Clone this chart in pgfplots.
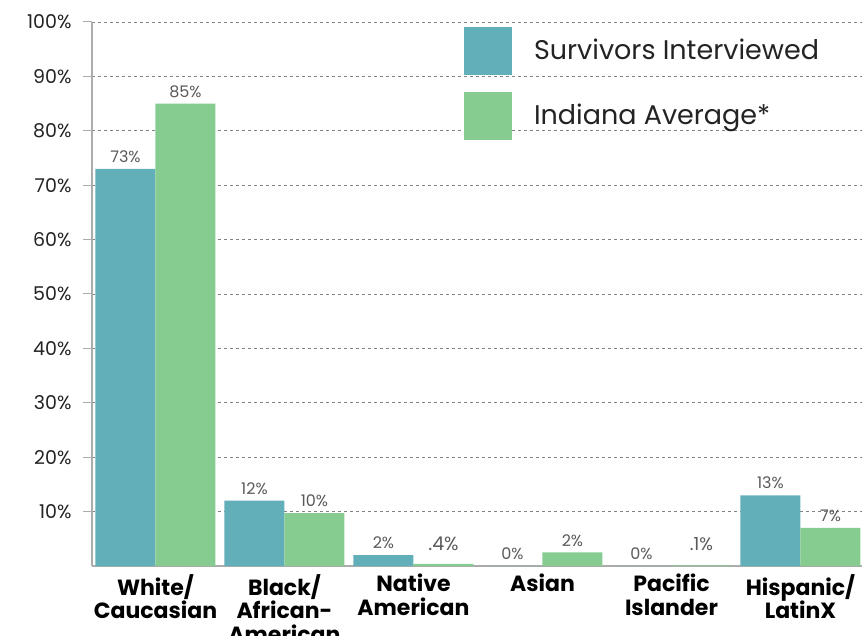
\documentclass[border=0pt]{standalone}
\usepackage{pgfplots}
\pgfplotsset{compat=1.18}
\usepackage{fontspec}
\setmainfont{Poppins}
\definecolor{cblue}{RGB}{98,175,185}
\definecolor{cgreen}{RGB}{134,204,144}
\definecolor{axgray}{RGB}{172,172,172}
\definecolor{gridgray}{RGB}{130,130,130}
\definecolor{labgray}{RGB}{90,90,90}
\definecolor{txt}{RGB}{35,35,35}
\begin{document}
\begin{tikzpicture}
\useasboundingbox (-92pt,-69pt) rectangle (770pt,566pt);
\begin{axis}[
  scale only axis, width=770pt, height=544pt,
  anchor=south west, at={(0pt,0pt)},
  ybar=0pt, bar width=60pt,
  xmin=-0.492, xmax=5.477, ymin=0, ymax=100,
  xtick={0,1,2,3,4,5},
  xticklabels={{White/\\Caucasian},{Black/\\African-\\American},{Native\\American},{Asian},{Pacific\\Islander},{Hispanic/\\LatinX}},
  x tick label style={align=center, font=\fontsize{22}{23.5}\selectfont\bfseries, text=black, inner sep=2pt, yshift=3pt},
  major x tick style={draw=none},
  ytick={10,20,...,100},
  yticklabel={\pgfmathprintnumber{\tick}\%},
  /pgf/number format/assume math mode=true,
  y tick label style={font=\fontsize{19}{19}\selectfont, text=txt, xshift=-8pt},
  tick align=outside,
  major y tick style={draw=axgray, line width=1pt},
  major tick length=9pt,
  ymajorgrids,
  grid style={dashed, draw=gridgray, line width=0.8pt},
  axis lines*=left,
  axis line style={-, draw=axgray, line width=2.5pt},
  point meta=explicit symbolic,
  nodes near coords,
  every node near coord/.append style={font=\fontsize{16}{16}\selectfont, text=labgray, inner sep=6pt},
  legend style={at={(0.479,0.995)}, anchor=north west, draw=none, fill=none,
    font=\fontsize{27}{30}\selectfont, text=txt, row sep=17pt, column sep=22pt,
    nodes={inner sep=0pt}},
  legend cell align=left,
]
\addplot[fill=cblue, draw=none,
  legend image code/.code={\fill[cblue] (0pt,-25pt) rectangle (48pt,23pt);}]
  coordinates {(0,73)[73\%] (1,12)[12\%] (2,2)[2\%] (3,0)[0\%] (4,0)[0\%] (5,13)[13\%]};
\addplot[fill=cgreen, draw=none,
  legend image code/.code={\fill[cgreen] (0pt,-25pt) rectangle (48pt,23pt);}]
  coordinates {(0,85)[85\%] (1,9.7)[10\%] (2,0.4)[\raisebox{7pt}{\fontsize{19}{19}\selectfont .4\%}] (3,2.5)[2\%] (4,0.1)[\raisebox{9pt}{\fontsize{18}{18}\selectfont .1\%}] (5,7)[7\%]};
\legend{Survivors Interviewed, Indiana Average*}
\end{axis}
\end{tikzpicture}
\end{document}
